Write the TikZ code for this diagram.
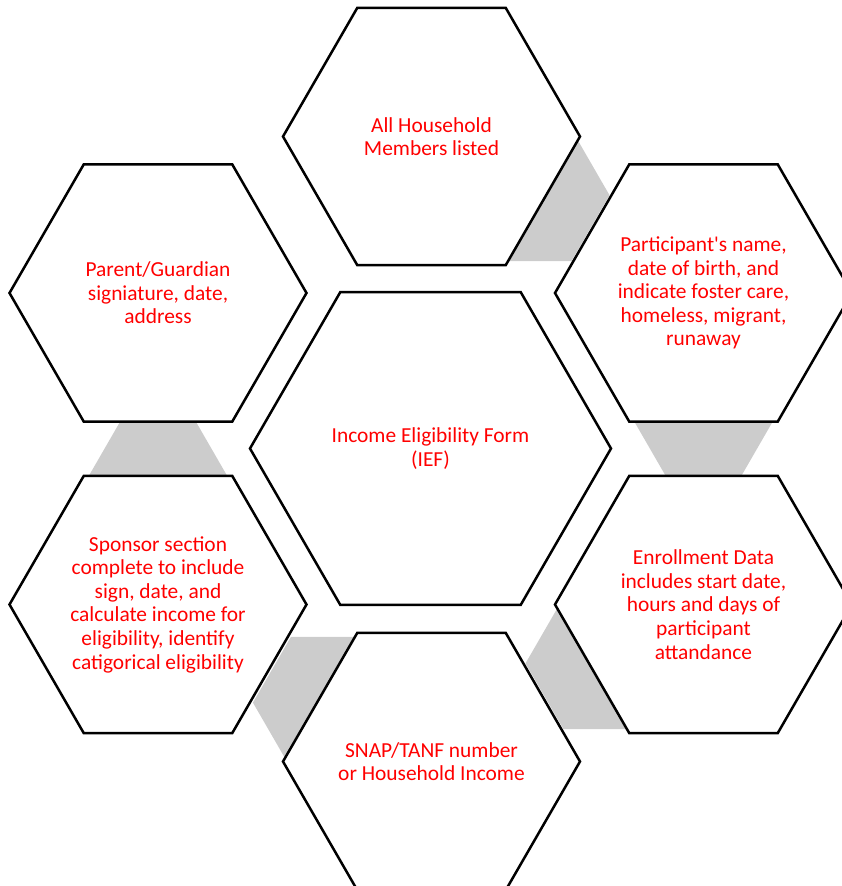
\documentclass[tikz,border=0pt]{standalone}
\usepackage{fontspec}
\setmainfont{Carlito}[Ligatures=TeXOff]
\usetikzlibrary{calc}
\definecolor{conngray}{RGB}{204,204,204}
\definecolor{txtred}{RGB}{255,0,0}
\tikzset{
  hexline/.style={draw=black, line width=2.5pt, line join=miter, fill=white},
  connhex/.style={fill=conngray, draw=none},
  hextext/.style={text=txtred, align=center, font=\fontsize{21.4}{23.6}\selectfont, inner sep=0pt}
}
\newcommand{\hexat}[2]{(#1) +(0:#2) -- +(60:#2) -- +(120:#2) -- +(180:#2) -- +(240:#2) -- +(300:#2) -- cycle}
\begin{document}
\begin{tikzpicture}[x=1pt,y=-1pt]
\useasboundingbox (0,0) rectangle (841,886);
% centres
\coordinate (cT)  at (431.5,136.5);
\coordinate (cTR) at (703.5,293);
\coordinate (cBR) at (703.5,604.5);
\coordinate (cB)  at (431.5,761.5);
\coordinate (cBL) at (158,604.5);
\coordinate (cTL) at (158,293);
\coordinate (cC)  at (430.5,448.5);
% connector hexagons
\coordinate (g1) at ($(cT)!0.375!(cTR)$);
\coordinate (g2) at ($(cTR)!0.375!(cBR)$);
\coordinate (g3) at ($(cBR)!0.375!(cB)$);
\coordinate (g4) at ($(cB)!0.375!(cBL)$);
\coordinate (g5) at ($(cBL)!0.375!(cTL)$);
\foreach \g in {g1,g2,g3,g4,g5}{
  \fill[connhex] \hexat{\g}{76pt};
}
% main hexagons
\draw[hexline] \hexat{cT}{148.5pt};
\draw[hexline] \hexat{cTR}{148.5pt};
\draw[hexline] \hexat{cBR}{148.5pt};
\draw[hexline] \hexat{cB}{148.5pt};
\draw[hexline] \hexat{cBL}{148.5pt};
\draw[hexline] \hexat{cTL}{148.5pt};
\draw[hexline] \hexat{cC}{180.5pt};
% texts
\node[hextext] (tT)  at (cT)  {All Household\\Members listed};
\node[hextext] (tTR) at (cTR) {Participant's name,\\date of birth, and\\indicate foster care,\\homeless, migrant,\\runaway};
\node[hextext] (tBR) at (cBR) {Enrollment Data\\includes start date,\\hours and days of\\participant\\attandance};
\node[hextext] (tB)  at (cB)  {SNAP/TANF number\\or Household Income};
\node[hextext] (tBL) at (cBL) {Sponsor section\\complete to include\\sign, date, and\\calculate income for\\eligibility, identify\\catigorical eligibility};
\node[hextext] (tTL) at (cTL) {Parent/Guardian\\signiature, date,\\address};
\node[hextext] (tC)  at (cC)  {Income Eligibility Form\\(IEF)};
\end{tikzpicture}
\end{document}
